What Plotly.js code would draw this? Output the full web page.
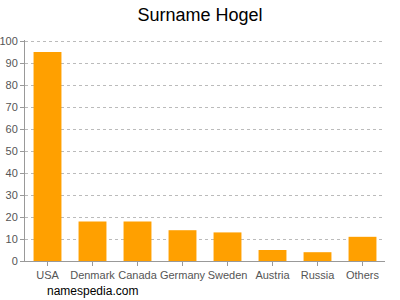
<!DOCTYPE html>
<html><head><meta charset="utf-8">
<script src="https://cdn.plot.ly/plotly-3.0.1.min.js"></script>
<style>html,body{margin:0;padding:0;background:#fff;}#chart{width:400px;height:300px;}</style>
</head><body><div id="chart"></div>
<script>
const countries = ["USA","Denmark","Canada","Germany","Sweden","Austria","Russia","Others"];
const counts = [95,18,18,14,13,5,4,11];
const yTicks = [0,10,20,30,40,50,60,70,80,90,100];

Plotly.newPlot("chart", [{
  type: "bar", x: countries, y: counts,
  marker: {color: "#ffa000"}, hoverinfo: "none"
}], {
  width: 400, height: 300,
  margin: {l: 25, r: 15, t: 40, b: 39},
  paper_bgcolor: "#fff", plot_bgcolor: "#fff",
  bargap: 0.38,
  font: {family: "Liberation Sans, Arial, sans-serif", color: "#555", size: 11},
  title: {text: "Surname Hogel", font: {size: 18, color: "#000"}, x: 0.5, xanchor: "center", y: 0.95, yanchor: "middle"},
  xaxis: {showline: true, linecolor: "#999", ticks: "outside", ticklen: 4, tickcolor: "#999", showgrid: false, tickfont: {size: 11, color: "#555"}, fixedrange: true},
  yaxis: {range: [0, 100.5], tickvals: yTicks, showline: true, linecolor: "#999", ticks: "outside", ticklen: 4, tickcolor: "#999",
    showgrid: true, gridcolor: "#bbb", griddash: "3px,3px", zeroline: false, tickfont: {size: 11, color: "#555"}, fixedrange: true},
  annotations: [{text: "namespedia.com", xref: "paper", yref: "paper", x: 0.055, y: -0.136, xanchor: "left", yanchor: "middle", showarrow: false, font: {size: 12, color: "#000"}}],
  showlegend: false
}, {displayModeBar: false, staticPlot: true});
</script></body></html>
